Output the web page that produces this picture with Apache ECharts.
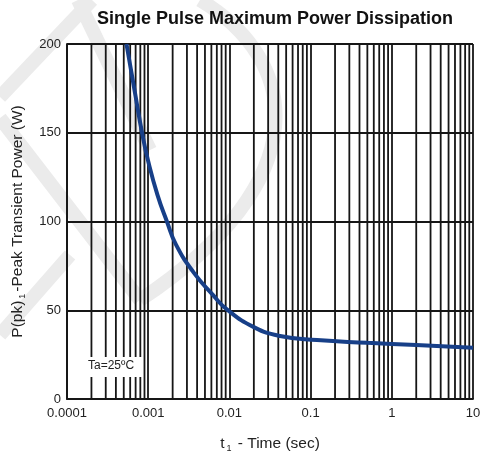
<!DOCTYPE html>
<html>
<head>
<meta charset="utf-8">
<script src="https://cdn.jsdelivr.net/npm/echarts@6/dist/echarts.min.js"></script>
<style>
  html, body { margin: 0; padding: 0; background: #fff; }
  #chart { width: 485px; height: 473px; }
</style>
</head>
<body>
<div id="chart"></div>
<script>
// pulse width (sec) and peak power (W)
const pulseTime = [0.00054, 0.00069, 0.00084, 0.001, 0.0013, 0.0017, 0.0022, 0.0036, 0.0063, 0.0093, 0.02, 0.042, 0.12, 0.5, 2, 10];
const peakPower = [200, 172, 150, 134, 115, 100, 87, 71.5, 58.5, 50.5, 40.5, 35.5, 33.2, 31.7, 30.4, 28.9];

const xTickLabels = ["0.0001", "0.001", "0.01", "0.1", "1", "10"];
const yTicks = [0, 50, 100, 150, 200];
const decades = [0.0001, 0.001, 0.01, 0.1, 1];

const font = 'Arial, "Liberation Sans", sans-serif';

// 2..9 grid lines inside every decade, drawn as broken vertical segments
const minorGrid = [];
decades.forEach((d) => {
  for (let m = 2; m <= 9; m++) {
    const v = m * d;
    minorGrid.push([v, yTicks[0]], [v, yTicks[yTicks.length - 1]], [v, null]);
  }
});

const wm = { stroke: "#ebebeb", lineWidth: 14, fill: null };
const gridLine = { color: "#161616", width: 1.8 };

const chart = echarts.init(document.getElementById("chart"));
chart.setOption({
  animation: false,
  backgroundColor: "#fff",
  title: {
    text: "Single Pulse Maximum Power Dissipation",
    left: 92,
    top: 5,
    textStyle: { fontFamily: font, fontSize: 18, fontWeight: "bold", color: "#111" },
  },
  grid: { left: 67, right: 12, top: 44, bottom: 74 },
  xAxis: {
    type: "log",
    logBase: 10,
    min: 0.0001,
    max: 10,
    name: "{a|t}{s|1}{a| - Time (sec)}",
    nameLocation: "middle",
    nameGap: 36,
    nameTextStyle: {
      rich: {
        a: { fontFamily: font, fontSize: 15.5, color: "#222" },
        s: { fontFamily: font, fontSize: 9, color: "#222", verticalAlign: "bottom", padding: [9, 2, 0, 2] },
      },
    },
    axisLine: { lineStyle: gridLine },
    axisTick: { show: false },
    axisLabel: {
      fontFamily: font,
      fontSize: 13,
      color: "#222",
      margin: 8,
      formatter: (v) => {
        const i = Math.round(Math.log10(v)) + 4;
        return xTickLabels[i] || "";
      },
    },
    splitLine: { show: true, lineStyle: gridLine },
  },
  yAxis: {
    type: "value",
    min: yTicks[0],
    max: yTicks[yTicks.length - 1],
    interval: 50,
    name: "{a|P(pk)}{s|1}{a|-Peak Transient Power (W)}",
    nameLocation: "middle",
    nameRotate: 90,
    nameGap: 40,
    nameTextStyle: {
      rich: {
        a: { fontFamily: font, fontSize: 15.5, color: "#222" },
        s: { fontFamily: font, fontSize: 9, color: "#222", verticalAlign: "bottom", padding: [9, 2, 0, 2] },
      },
    },
    axisLine: { show: true, lineStyle: gridLine },
    axisTick: { show: false },
    axisLabel: { fontFamily: font, fontSize: 13, color: "#222", margin: 6 },
    splitLine: { show: true, lineStyle: gridLine },
  },
  graphic: [
    // faint watermark behind the chart
    { type: "line", z: -10, shape: { x1: 92, y1: 0, x2: 0, y2: 97 }, style: wm },
    { type: "line", z: -10, shape: { x1: 0, y1: 118, x2: 140, y2: 300 }, style: wm },
    { type: "line", z: -10, shape: { x1: 0, y1: 335, x2: 70, y2: 255 }, style: wm },
    { type: "line", z: -10, shape: { x1: 78, y1: 0, x2: 150, y2: 150 }, style: wm },
    {
      type: "bezierCurve",
      z: -10,
      shape: { x1: 200, y1: 0, cpx1: 300, cpy1: 60, cpx2: 320, cpy2: 180, x2: 140, y2: 300 },
      style: wm,
    },
    // condition label
    { type: "rect", z: 100, shape: { x: 85, y: 357, width: 57, height: 20 }, style: { fill: "#fff" } },
    {
      type: "text",
      z: 101,
      left: 88,
      top: 360,
      style: { text: "Ta=25ºC", fontFamily: font, fontSize: 12, fill: "#222" },
    },
  ],
  series: [
    {
      type: "line",
      data: minorGrid,
      symbol: "none",
      silent: true,
      connectNulls: false,
      lineStyle: gridLine,
      z: 1,
    },
    {
      type: "line",
      data: pulseTime.map((t, i) => [t, peakPower[i]]),
      smooth: true,
      symbol: "none",
      lineStyle: { color: "#173f88", width: 4 },
      z: 5,
    },
  ],
});
</script>
</body>
</html>
